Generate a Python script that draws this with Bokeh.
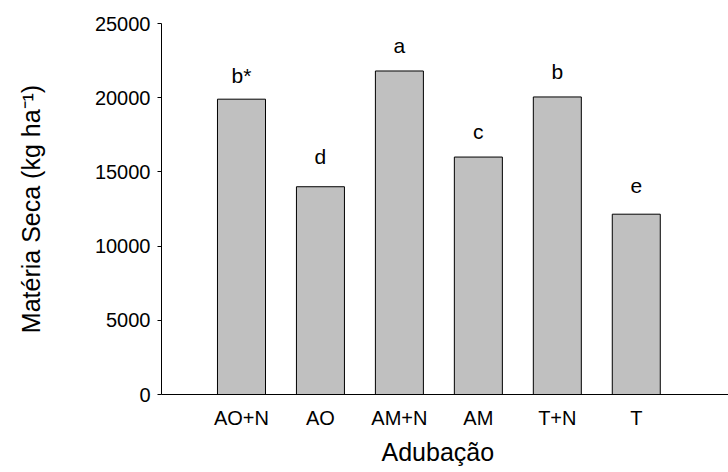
from bokeh.plotting import figure
from bokeh.models import Range1d, FixedTicker, ColumnDataSource, Title
from bokeh.core.properties import value
from bokeh.embed import file_html
from bokeh.resources import INLINE

categories = ["AO+N", "AO", "AM+N", "AM", "T+N", "T"]
materia_seca = [19900, 14000, 21800, 16000, 20050, 12150]
letters = ["b*", "d", "a", "c", "b", "e"]
label_y = [20950, 15500, 23000, 17150, 21250, 13500]
y_ticks = [0, 5000, 10000, 15000, 20000, 25000]
x_title = "Adubação"
y_title = "Matéria Seca (kg ha\u207b\u00b9)"

xpos = list(range(len(categories)))
src = ColumnDataSource(dict(x=xpos, top=materia_seca, lab=letters, ly=label_y))

FONT = "Liberation Sans"

p = figure(width=728, height=472, output_backend="svg", toolbar_location=None,
           x_range=Range1d(-1.013, 6.168), y_range=Range1d(0, 25000),
           min_border_left=161, min_border_right=0, min_border_top=23, min_border_bottom=78)
p.outline_line_color = None
p.xgrid.visible = False
p.ygrid.visible = False
p.background_fill_color = "white"
p.border_fill_color = "white"

p.vbar(x="x", top="top", width=0.608, bottom=0, source=src,
       fill_color="#c0c0c0", line_color="#000000", line_width=1)

p.text(x="x", y="ly", text="lab", source=src, text_align="center",
       text_baseline="alphabetic", text_font=value(FONT), text_font_size="21px",
       text_color="black", y_offset=-8)

# y axis
ya = p.yaxis[0]
ya.ticker = FixedTicker(ticks=y_ticks)
ya.minor_tick_line_color = None
ya.major_tick_in = 0
ya.major_tick_out = 4
ya.axis_line_color = "black"
ya.major_tick_line_color = "black"
ya.major_label_text_font = FONT
ya.major_label_text_font_size = "20px"
ya.major_label_text_color = "black"
ya.major_label_standoff = 7
ya.axis_label = y_title
ya.axis_label_text_font = FONT
ya.axis_label_text_font_size = "25px"
ya.axis_label_text_font_style = "normal"
ya.axis_label_text_color = "black"
ya.axis_label_standoff = 47

# x axis
xa = p.xaxis[0]
xa.ticker = FixedTicker(ticks=xpos)
xa.major_label_overrides = {i: c for i, c in zip(xpos, categories)}
xa.minor_tick_line_color = None
xa.major_tick_in = 0
xa.major_tick_out = 0
xa.axis_line_color = "black"
xa.major_label_text_font = FONT
xa.major_label_text_font_size = "20px"
xa.major_label_text_color = "black"
xa.major_label_standoff = 12

p.add_layout(Title(text=x_title, align="left", offset=220, standoff=9,
                   text_font=FONT, text_font_size="25px", text_font_style="normal",
                   text_color="black"), "below")

open("out.html", "w").write(file_html(p, INLINE))
